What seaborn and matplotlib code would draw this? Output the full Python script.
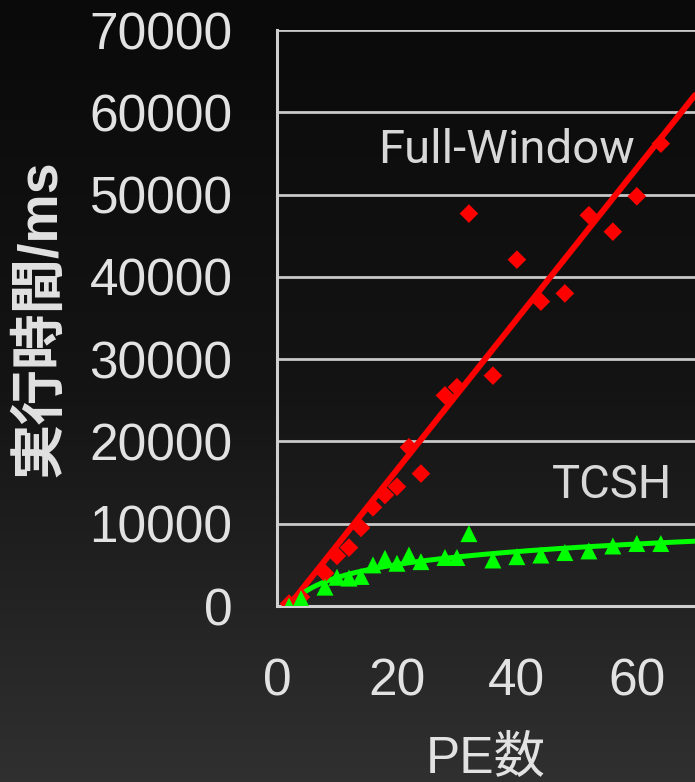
import numpy as np
import matplotlib
matplotlib.use("Agg")
import matplotlib.pyplot as plt
import seaborn as sns
from matplotlib.ticker import MultipleLocator
from matplotlib.colors import LinearSegmentedColormap

# PE count vs. execution time (ms)
pe = [2, 4, 8, 10, 12, 14, 16, 18, 20, 22, 24, 28, 30, 32, 36, 40, 44, 48, 52, 56, 60, 64]
full_window = [300, 1100, 4000, 6100, 7100, 9500, 12000, 13500, 14500, 19300, 16100,
               25600, 26600, 47700, 28000, 42100, 37000, 38000, 47500, 45500, 49800, 56200]
tcsh = [0, 900, 2300, 3500, 3400, 3600, 5000, 5800, 5200, 6200, 5400,
        5900, 5900, 8800, 5600, 6000, 6200, 6500, 6700, 7300, 7600, 7600]

sns.set_style("white")
plt.rcParams["font.family"] = ["Liberation Sans", "Noto Sans CJK JP", "DejaVu Sans"]

fg = "#e2e2e2"
fig = plt.figure(figsize=(6.95, 7.82), dpi=100)

# dark gradient background
bg = fig.add_axes([0, 0, 1, 1], zorder=-10)
cmap = LinearSegmentedColormap.from_list("bg", ["#0a0a0a", "#141414", "#303030"])
bg.imshow(np.linspace(0, 1, 256).reshape(-1, 1), aspect="auto", cmap=cmap,
          extent=[0, 1, 0, 1], origin="upper")
bg.axis("off")

ax = fig.add_axes([0.3986, 0.225, 0.6014, 0.7365])
ax.set_facecolor("none")

# trend lines fitted from the data
xs = np.linspace(1, 69.7, 200)
k, b = np.polyfit(pe, full_window, 1)
a, c = np.polyfit(np.log(pe), tcsh, 1)
sns.lineplot(x=xs, y=k * xs + b, color="#ff0000", lw=4.3, ax=ax, zorder=3)
sns.lineplot(x=xs, y=a * np.log(xs) + c, color="#00ff00", lw=3.6, ax=ax, zorder=3)

sns.scatterplot(x=pe, y=full_window, marker="D", s=90, color="#ff0000",
                edgecolor="none", ax=ax, zorder=4)
sns.scatterplot(x=pe, y=tcsh, marker="^", s=150, color="#00ff00",
                edgecolor="none", ax=ax, zorder=5)

ax.set_xlim(0, 69.7)
ax.set_ylim(0, 70000)
ax.xaxis.set_major_locator(MultipleLocator(20))
ax.xaxis.set_minor_locator(MultipleLocator(5))
ax.yaxis.set_major_locator(MultipleLocator(10000))
ax.grid(axis="y", color="#c8c8c8", lw=2)
ax.set_axisbelow(True)

for side in ["top", "right"]:
    ax.spines[side].set_visible(False)
for side in ["left", "bottom"]:
    ax.spines[side].set_color("#d0d0d0")
    ax.spines[side].set_linewidth(2.2)

ax.tick_params(axis="x", which="major", direction="in", length=12, width=1.8,
               color="#d0d0d0", labelsize=37, labelcolor=fg, pad=37)
ax.tick_params(axis="x", which="minor", direction="in", length=7, width=1.8,
               color="#d0d0d0")
ax.tick_params(axis="y", which="major", direction="in", length=12, width=2,
               color="#d8d8d8", labelsize=37, labelcolor=fg, pad=32)

ax.set_xlabel("PE数", fontsize=37, color=fg, labelpad=20)
ax.set_ylabel("実行時間/ms", fontsize=40, color=fg, fontweight="bold", labelpad=16)

narrow = ["Roboto", "Liberation Sans"]
ax.text(38.3, 55400, "Full-Window", family=narrow, fontsize=34, color="#d8d8d8",
        ha="center", va="center")
ax.text(55.8, 14700, "TCSH", family=narrow, fontsize=34, color="#d8d8d8",
        ha="center", va="center")

fig.savefig("out.png", dpi=100)
